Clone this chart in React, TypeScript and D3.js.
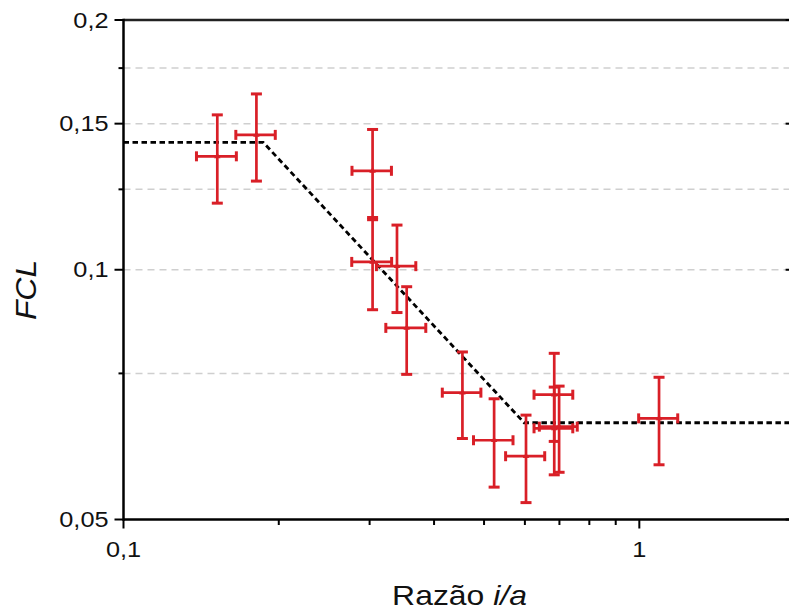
import React from "react";
import * as d3 from "d3";

const xData = [0.152, 0.181, 0.304, 0.304, 0.339, 0.354, 0.454, 0.523, 0.603, 0.684, 0.684, 0.699, 1.092];
const xErr = [0.0135, 0.0159, 0.0267, 0.027, 0.0297, 0.0315, 0.039, 0.046, 0.0525, 0.059, 0.059, 0.059, 0.095];
const yData = [0.137, 0.1454, 0.1316, 0.1022, 0.101, 0.0851, 0.0711, 0.0623, 0.0596, 0.0707, 0.0644, 0.0647, 0.0662];
const yErr = [0.0167, 0.0175, 0.016, 0.0127, 0.0122, 0.0103, 0.0085, 0.0076, 0.0072, 0.0086, 0.0078, 0.0077, 0.008];

const fitX = [0.1, 0.1866, 0.598, 2];
const fitY = [0.1424, 0.1424, 0.0654, 0.0654];

const yMajorTicks = [0.05, 0.1, 0.15, 0.2];
const yMajorLabels = ["0,05", "0,1", "0,15", "0,2"];
const yMinorTicks = [0.075, 0.125, 0.175];
const yGrid = [0.075, 0.1, 0.125, 0.15, 0.175];
const xMajorTicks = [0.1, 1];
const xMajorLabels = ["0,1", "1"];
const xMinorTicks = [0.2, 0.3, 0.4, 0.5, 0.6, 0.7, 0.8, 0.9, 2];

const W = 789;
const H = 615;
const left = 123.5;
const right = 794.6;
const top = 20;
const bottom = 519.5;
const RED = "#d91f27";
const FONT = "'Liberation Sans', Arial, Helvetica, sans-serif";

export default function App() {
  const x = d3.scaleLog().domain([0.1, 2]).range([left, right]);
  const y = d3.scaleLog().domain([0.05, 0.2]).range([bottom, top]);
  const line = d3
    .line<number>()
    .x((_, i) => x(fitX[i]))
    .y((d) => y(d));
  const tri = d3.symbol().type(d3.symbolTriangle).size(18)();
  const capV = 5.5;
  const capH = 5;

  return (
    <svg
      width={W}
      height={H}
      style={{ position: "absolute", left: 0, top: 0, background: "#fff" }}
    >
      <rect x={0} y={0} width={W} height={H} fill="#fff" />
      {yGrid.map((v) => (
        <line
          key={"g" + v}
          x1={left}
          x2={right}
          y1={y(v)}
          y2={y(v)}
          stroke="#cfcfcf"
          strokeWidth={1.5}
          strokeDasharray="7,5"
        />
      ))}
      <path
        d={line(fitY) || ""}
        fill="none"
        stroke="#000"
        strokeWidth={2.8}
        strokeDasharray="5.5,3.5"
      />
      {xData.map((xv, i) => {
        const cx = x(xv);
        const cy = y(yData[i]);
        const x0 = x(xv - xErr[i]);
        const x1 = x(xv + xErr[i]);
        const y0 = y(yData[i] + yErr[i]);
        const y1 = y(yData[i] - yErr[i]);
        return (
          <g key={"p" + i} stroke={RED} strokeWidth={2.7} fill="none">
            <line x1={cx} x2={cx} y1={y0} y2={y1} />
            <line x1={cx - capV} x2={cx + capV} y1={y0} y2={y0} strokeWidth={3} />
            <line x1={cx - capV} x2={cx + capV} y1={y1} y2={y1} strokeWidth={3} />
            <line x1={x0} x2={x1} y1={cy} y2={cy} />
            <line x1={x0} x2={x0} y1={cy - capH} y2={cy + capH} strokeWidth={3} />
            <line x1={x1} x2={x1} y1={cy - capH} y2={cy + capH} strokeWidth={3} />
            <path d={tri || ""} transform={`translate(${cx},${cy})`} fill={RED} stroke="none" />
          </g>
        );
      })}
      <line x1={left} x2={right} y1={top} y2={top} stroke="#222" strokeWidth={2.5} />
      <line x1={left} x2={right} y1={bottom} y2={bottom} stroke="#000" strokeWidth={2.5} />
      <line x1={left} x2={left} y1={top - 1.2} y2={bottom + 1.2} stroke="#000" strokeWidth={2.5} />
      <line x1={right} x2={right} y1={top} y2={bottom} stroke="#000" strokeWidth={2.5} />
      {yMajorTicks.map((v, i) => (
        <g key={"ym" + v}>
          <line x1={left - 9} x2={left} y1={y(v)} y2={y(v)} stroke="#000" strokeWidth={2} />
          <line x1={right - 9} x2={right} y1={y(v)} y2={y(v)} stroke="#000" strokeWidth={2} />
          <text
            transform={`translate(${left - 15},${y(v)}) scale(1.15,1)`}
            dy="0.35em"
            textAnchor="end"
            fontFamily={FONT}
            fontSize={22}
            fill="#111"
          >
            {yMajorLabels[i]}
          </text>
        </g>
      ))}
      {yMinorTicks.map((v) => (
        <g key={"yn" + v}>
          <line x1={left - 5} x2={left} y1={y(v)} y2={y(v)} stroke="#000" strokeWidth={2} />
          <line x1={right - 5} x2={right} y1={y(v)} y2={y(v)} stroke="#000" strokeWidth={2} />
        </g>
      ))}
      {xMajorTicks.map((v, i) => (
        <g key={"xm" + v}>
          <line x1={x(v)} x2={x(v)} y1={bottom} y2={bottom + 9} stroke="#000" strokeWidth={2} />
          <text
            transform={`translate(${x(v)},${bottom + 37}) scale(1.15,1)`}
            textAnchor="middle"
            fontFamily={FONT}
            fontSize={22}
            fill="#111"
          >
            {xMajorLabels[i]}
          </text>
        </g>
      ))}
      {xMinorTicks.map((v) => (
        <line key={"xn" + v} x1={x(v)} x2={x(v)} y1={bottom} y2={bottom + 5.5} stroke="#000" strokeWidth={2} />
      ))}
      <text
        transform={`translate(459.5,605) scale(1.12,1)`}
        textAnchor="middle"
        fontFamily={FONT}
        fontSize={28.5}
        fill="#111"
      >
        Razão <tspan fontStyle="italic">i/a</tspan>
      </text>
      <text
        transform={`translate(36,290) rotate(-90) scale(1.1,1)`}
        textAnchor="middle"
        fontFamily={FONT}
        fontSize={29}
        fontStyle="italic"
        fill="#111"
      >
        FCL
      </text>
    </svg>
  );
}
